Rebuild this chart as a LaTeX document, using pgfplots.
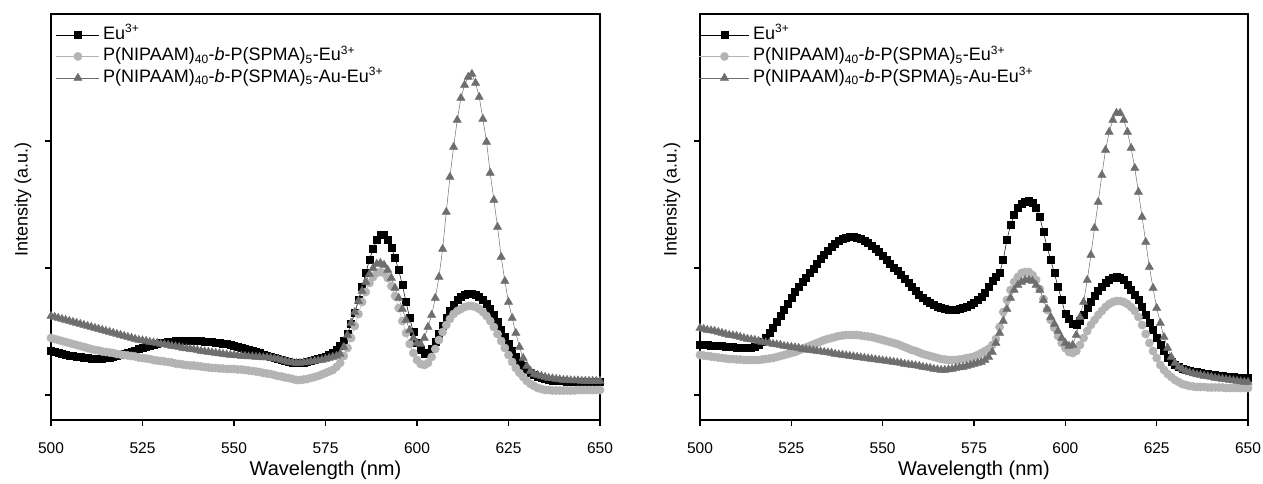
\documentclass[border=0pt]{standalone}
\usepackage{fontspec}
\setmainfont{Liberation Sans}
\usepackage{pgfplots}
\usepackage{pgfplotstable}
\pgfplotsset{compat=1.18}
\definecolor{cEu}{RGB}{0,0,0}
\definecolor{cP}{RGB}{180,180,180}
\definecolor{cAu}{RGB}{110,110,110}
\newcommand\lsub[1]{\textsubscript{\fontsize{12}{13}\selectfont #1}}
\newcommand\lsup[1]{\textsuperscript{\fontsize{12}{13}\selectfont #1}}

\pgfplotstableread{
lam eu p au
500 44.5 57 79
501 43.5 56 78
502 42.5 55 77
503 41.5 54 76
504 40.5 53 75
505 39.5 52 74
506 39 51 73
507 38.5 50 72
508 38 49 71
509 37.5 48 70
510 37 47 69
511 36.5 46 68
512 36.5 45 67
513 36.5 44.5 66
514 36.5 43.5 65
515 37 43 64
516 37.5 42.5 63
517 38 42 62
518 39 41 61
519 40 40.5 60
520 41 40 59
521 42 39.5 58
522 43 39 57
523 44.5 38.5 56
524 46 37.5 55
525 47 37 54.5
526 48 36.5 54
527 49 36 53
528 50 35 52.5
529 51 34.5 52
530 52 34 51
531 52.5 33.5 50.5
532 53 33 50
533 53.5 32.5 49
534 54 31.5 48.5
535 54 31 48
536 54.5 30.5 47
537 54.5 30 46.5
538 54.5 29.5 46
539 54.5 29.5 45.5
540 54 29 45
541 54 28.5 44
542 53.5 28 43.5
543 53 27.5 43
544 53 27 42.5
545 52.5 27 42
546 52 26.5 41.5
547 51.5 26.5 41
548 51 26 40.5
549 50 26 40
550 49.5 26 40
551 48.5 25.5 39.5
552 47.5 25.5 39
553 46.5 25 39
554 45.5 24.5 38.5
555 44 24 38.5
556 43 23.5 38
557 42 23 38
558 40.5 22 37.5
559 39.5 21.5 37.5
560 38 21 37
561 37 20 36.5
562 36 19 36
563 35 18.5 35
564 34 17.5 34
565 33 17 33
566 32.5 16 32.5
567 32 15 32
568 32 15 32
569 32.5 15.5 32.5
570 33 16 33
571 34 17 33.5
572 35 18 34
573 36 19 34.5
574 37 20.5 35
575 38 22 36
576 40 23.5 37
577 42 25 38
578 45 28 39
579 49 32 41
580 54 39 48
581 61 47 60
582 71 57 72
583 82 69 83
584 95 81 94
585 108 93 104
586 122 103 113
587 135 112 121
588 146 118 127
589 155 122 131
590 160 123 132
591 160 122 130
592 155 117 125
593 147 109 117
594 137 99 107
595 125 87 97
596 110 74 86
597 93 62 75
598 77 51 65
599 63 42 57
600 52 35 52
601 45 31 51
602 41 30 57
603 42 32 68
604 46 38 80
605 53 46 97
606 61 55 118
607 69 63 146
608 77 70 183
609 84 76 218
610 90 81 248
611 95 84 275
612 98 86 297
613 100 88 310
614 101 89 318
615 101 89 321
616 100 88 312
617 98 86 298
618 95 83 276
619 91 79 253
620 86 74 222
621 80 68 195
622 73 61 168
623 65 54 138
624 58 47 114
625 51 40 93
626 44 33 77
627 38 27 62
628 33 22 48
629 29 18 37
630 25 14 29
631 22 11 24
632 20 9 21
633 18 7 20
634 17 6 19
635 16 5 18
636 15 5 17
637 14.5 4.5 16.5
638 14 4.5 16
639 14 4.5 15.5
640 14 4.5 15
641 13.5 4.5 15
642 13.5 4.5 14.5
643 13.5 4.5 14.5
644 13.5 5 14.5
645 13.5 5 14
646 13 5 14
647 13 5 14
648 13 5 14
649 13 5 14
650 13 5 14
}\leftdata

\pgfplotstableread{
lam eu p au
500 50 40 67
501 50 39.5 66
502 50 39 65
503 49.5 38.5 64.5
504 49.5 38 64
505 49 37.5 63
506 49 37 62
507 48.5 36.5 61
508 48 36 60
509 48 36 59.5
510 47.5 35.5 59
511 47.5 35.5 58
512 47 35 57
513 47 35 56
514 47 35 55.5
515 48 35 55
516 50 35 54
517 53 35.5 53
518 57 36 52.5
519 62 36.5 52
520 67 37 51
521 73 38 50.5
522 79 39 50
523 85 40 49
524 91 41 48.5
525 97 42 48
526 103 43 47.5
527 108 44.5 47
528 113 46 46
529 117 47.5 45.5
530 122 49 45
531 126 50.5 44.5
532 131 52 44
533 136 53.5 43.5
534 140 55 43
535 144 56 42.5
536 148 57 42
537 151 58 41
538 154 59 40.5
539 156 59.5 40
540 157.5 60 39.5
541 158 60 39
542 158 60 38.5
543 157.5 60 38
544 156 59.5 37.5
545 154 59 37
546 152 58.5 36.5
547 149 58 36
548 146 57 35.5
549 143 56 35
550 139 55 34.5
551 135 54 34
552 131 53 33.5
553 127 52 33
554 124 51 32.5
555 120 49.5 32
556 116 48 31
557 112 46.5 30.5
558 108 45 30
559 104 44 29.5
560 100 42.5 29
561 97 41 28
562 94 40 27.5
563 92 39 27
564 90 38 26
565 88 37 25.5
566 87 36 25
567 86 35.5 25
568 85 35 25.5
569 85 35 26
570 85.5 35 27
571 86 35.5 27.5
572 87 36 28
573 88 37 29
574 90 37.5 30
575 92 38.5 31
576 95 40 32
577 98 42 33
578 102 44 35
579 108 46 38
580 114 50 43
581 118 56 52
582 122 68 62
583 135 83 74
584 155 95 86
585 170 105 97
586 180 113 105
587 187 118 110
588 191 122 113
589 193 123 115
590 194 123 115
591 192 120 114
592 187 115 110
593 178 106 105
594 163 96 95
595 148 85 86
596 135 75 78
597 122 67 71
598 108 59 64
599 95 52 57
600 81 47 52
601 76 43 49
602 71 42 50
603 70 44 60
604 74 50 78
605 80 57 93
606 87 64 115
607 93 70 140
608 99 75 167
609 104 80 193
610 108 84 220
611 112 88 245
612 115 91 263
613 117 93 275
614 118 94 282
615 117.5 94 282
616 115 93 275
617 110 91 263
618 105 88 247
619 100 84 227
620 95 78 203
621 88 70 178
622 80 61 153
623 72 52 128
624 65 44 107
625 57 37 87
626 50 30 72
627 44 25 58
628 37 21 47
629 33 18 38
630 30 15 32
631 28 13 28
632 26.5 11 26
633 25 10 24
634 24 9 22.5
635 23.5 8.5 21.5
636 23 8 20.5
637 22 8 20
638 21.5 8 19
639 21 7.5 18.5
640 20.5 7.5 18
641 20 7.5 17
642 19.5 7.5 16.5
643 19 7.5 16
644 18.5 7 15.5
645 18 7 15
646 18 7 14.5
647 17.5 7 14
648 17.5 7 13.5
649 17 7 13
650 17 7 13
}\rightdata

\pgfplotsset{
  panel/.style={
    scale only axis, width=549pt, height=406pt,
    xmin=500, xmax=650, ymin=-25, ymax=381,
    xtick={500,525,...,650}, ytick={0,127,254}, yticklabels={},
    tick pos=left, tick align=outside, major tick length=6pt,
    axis line style={line width=1.4pt},
    every tick/.style={black, line width=1.4pt},
    /pgf/number format/assume math mode=true,
    tick label style={font=\fontsize{15.5}{18}\selectfont},
    every x tick label/.append style={anchor=base, yshift=-27pt},
    xlabel={Wavelength (nm)}, ylabel={Intensity (a.u.)},
    every axis x label/.style={at={(axis description cs:0.5,0)}, anchor=base, yshift=-55pt, font=\fontsize{20}{24}\selectfont},
    every axis y label/.style={at={(axis description cs:0,0.542)}, xshift=-28pt, rotate=90, anchor=center, font=\fontsize{18}{22}\selectfont},
    legend cell align=left,
    legend style={draw=none, fill=none, at={(axis description cs:0,1)}, anchor=north west, yshift=-10pt,
      font=\fontsize{18}{20}\selectfont, inner sep=0pt, row sep=0pt, column sep=2pt,
      nodes={inner sep=1.5pt, text height=13.5pt, text depth=5pt}},
  },
  leftleg/.style={legend image code/.code={\draw[mark repeat=2,mark phase=2] plot coordinates {(0pt,0pt) (21.5pt,0pt) (43pt,0pt)};}},
  rightleg/.style={legend image code/.code={\draw[mark repeat=2,mark phase=2] plot coordinates {(0pt,0pt) (25pt,0pt) (50pt,0pt)};}},
  sEu/.style={color=cEu, line width=0.5pt, mark=square*, mark size=3.5pt, mark options={solid, fill=cEu, draw=cEu}},
  sP/.style={color=cP, line width=0.5pt, mark=*, mark size=4.1pt, mark options={solid, fill=cP, draw=cP}},
  sAu/.style={color=cAu, line width=0.5pt, mark=triangle*, mark size=4.7pt, mark options={solid, fill=cAu, draw=cAu}},
}

\begin{document}
\begin{tikzpicture}
\begin{axis}[panel, leftleg, at={(51pt,63pt)}, anchor=south west, legend style={xshift=5pt}]
\addplot[sEu] table[x=lam, y=eu] {\leftdata};
\addlegendentry{Eu\lsup{3+}}
\addplot[sP] table[x=lam, y=p] {\leftdata};
\addlegendentry{P(NIPAAM)\lsub{40}-\textit{b}-P(SPMA)\lsub{5}-Eu\lsup{3+}}
\addplot[sAu] table[x=lam, y=au] {\leftdata};
\addlegendentry{P(NIPAAM)\lsub{40}-\textit{b}-P(SPMA)\lsub{5}-Au-Eu\lsup{3+}}
\end{axis}
\begin{axis}[panel, rightleg, at={(700pt,63pt)}, anchor=south west, width=548pt, legend style={xshift=-1pt}]
\addplot[sEu] table[x=lam, y=eu] {\rightdata};
\addlegendentry{Eu\lsup{3+}}
\addplot[sP] table[x=lam, y=p] {\rightdata};
\addlegendentry{P(NIPAAM)\lsub{40}-\textit{b}-P(SPMA)\lsub{5}-Eu\lsup{3+}}
\addplot[sAu] table[x=lam, y=au] {\rightdata};
\addlegendentry{P(NIPAAM)\lsub{40}-\textit{b}-P(SPMA)\lsub{5}-Au-Eu\lsup{3+}}
\end{axis}
\pgfresetboundingbox
\useasboundingbox (0pt,0pt) rectangle (1263pt,483pt);
\end{tikzpicture}
\end{document}
